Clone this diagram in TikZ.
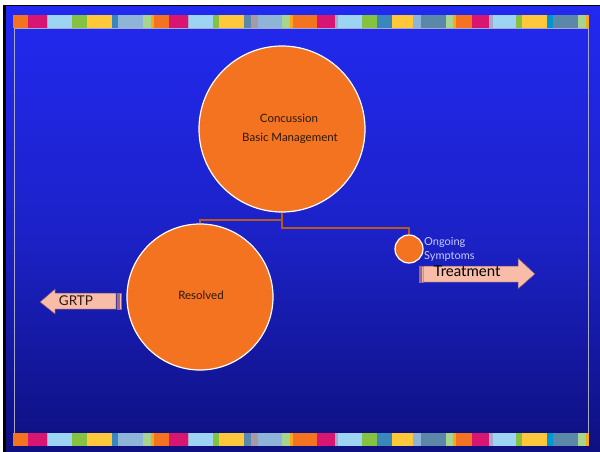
\documentclass[tikz,border=0pt]{standalone}
\usepackage{fontspec}
\setmainfont{Lato}
\begin{document}
\begin{tikzpicture}[x=1pt,y=-1pt,
  bubble/.style={circle,fill=corange,draw=white,line width=1.2pt,inner sep=0pt},
  conn/.style={draw=cline,line width=1.2pt},
  arrowbody/.style={fill=csalmon,draw=cedge,line width=0.5pt},
  stripe/.style={fill=csalmon,draw=cedge!70!csalmon,line width=0.4pt},
  lbl/.style={text=ctext,inner sep=0pt,font=\fontsize{11.5}{13}\selectfont}]
\definecolor{corange}{HTML}{F47321}
\definecolor{cline}{HTML}{B8581E}
\definecolor{csalmon}{HTML}{F9BCA8}
\definecolor{cedge}{HTML}{6A4A7A}
\definecolor{ctext}{HTML}{2A1A10}
\definecolor{ctop}{HTML}{2229F0}
\definecolor{cmid}{HTML}{1C22C8}
\definecolor{cbot}{HTML}{0E1080}
\definecolor{sOr}{HTML}{F47321}
\definecolor{sMa}{HTML}{D91572}
\definecolor{sGy}{HTML}{A8A8C8}
\definecolor{sLb}{HTML}{9DD3F3}
\definecolor{sGr}{HTML}{86C242}
\definecolor{sYe}{HTML}{FEC83A}
\definecolor{sSb}{HTML}{3A87BC}
\definecolor{sLs}{HTML}{8EB4D8}
\definecolor{sLg}{HTML}{A7D48E}
\definecolor{sOy}{HTML}{F7A81B}
\definecolor{sGb}{HTML}{5B88A8}
\definecolor{sMv}{HTML}{A899A8}
\definecolor{sCy}{HTML}{0096D6}
\definecolor{clav}{HTML}{C8CCF5}
\useasboundingbox (0,0) rectangle (600,452);
\fill[white] (0,0) rectangle (600,452);
\fill[black] (3,5) rectangle (600,452);
\shade[top color=ctop,bottom color=cbot,middle color=cmid] (6,7) rectangle (600,452);
\draw[color=sGy,line width=0.8pt] (14,28) rectangle (588,433);
% colour strips
\foreach \ya/\yb in {15/28,433/446}{
\foreach \xa/\xb/\c in {13/28/sOr,28/47/sMa,47/48/sGy,48/72/sLb,72/87/sGr,87/112/sYe,112/118/sSb,118/143/sLs,143/151/sLg,151/154/sOy,
154/169/sOr,169/188/sMa,188/189/sGy,189/213/sLb,213/219/sGr,219/244/sYe,244/251/sGb,251/258/sMv,258/282/sLs,282/290/sLg,290/293/sOy,
293/317/sOr,317/335/sMa,335/338/sGy,338/362/sLb,362/377/sGr,377/392/sSb,392/413/sYe,413/421/sLs,421/446/sGb,446/453/sLg,453/456/sOy,
456/472/sOr,472/489/sMa,489/493/sGy,493/516/sLb,516/522/sGr,522/547/sYe,547/553/sCy,553/578/sGb,578/586/sLg,586/589/sOy}
  {\fill[\c] (\xa,\ya) rectangle (\xb,\yb);}
}
% circles
\node[bubble,minimum size=166pt] (main) at (282,129) {};
\node[bubble,minimum size=146pt] (res) at (200,297) {};
\node[bubble,minimum size=28pt] (sm) at (409,249) {};
\node[lbl] (t1) at (289,118) {Concussion};
\node[lbl] (t2) at (290,138) {Basic Management};
\node[lbl] (t3) at (201,295) {Resolved};
\node[inner sep=0pt,anchor=north west,align=left,text=clav,font=\fontsize{11}{14}\selectfont] (t4) at (424,237) {Ongoing\\Symptoms};
% connectors
\coordinate (jl) at (282,220);
\coordinate (jr) at (282,228);
\draw[conn] (main.south) -- (jr) -| (sm.north);
\draw[conn] (jl) -| (res.north);
% Treatment arrow
\filldraw[stripe] (419,266) rectangle (420.5,282);
\filldraw[stripe] (421.5,266) rectangle (422.8,282);
\filldraw[arrowbody] (423,266) -- (518,266) -- (518,258) -- (535,274) -- (518,289) -- (518,282) -- (423,282) -- cycle;
\node[inner sep=0pt,text=black,font=\fontsize{15}{17}\selectfont] (tr) at (467,271) {Treatment};
% GRTP arrow
\filldraw[stripe] (117.2,293) rectangle (118.5,309);
\filldraw[stripe] (119.5,293) rectangle (121,309);
\filldraw[arrowbody] (116,293) -- (55,293) -- (55,289) -- (40,302) -- (55,314) -- (55,309) -- (116,309) -- cycle;
\node[inner sep=0pt,text=ctext,font=\fontsize{13.5}{15}\selectfont] (gr) at (76,301) {GRTP};
\end{tikzpicture}
\end{document}
